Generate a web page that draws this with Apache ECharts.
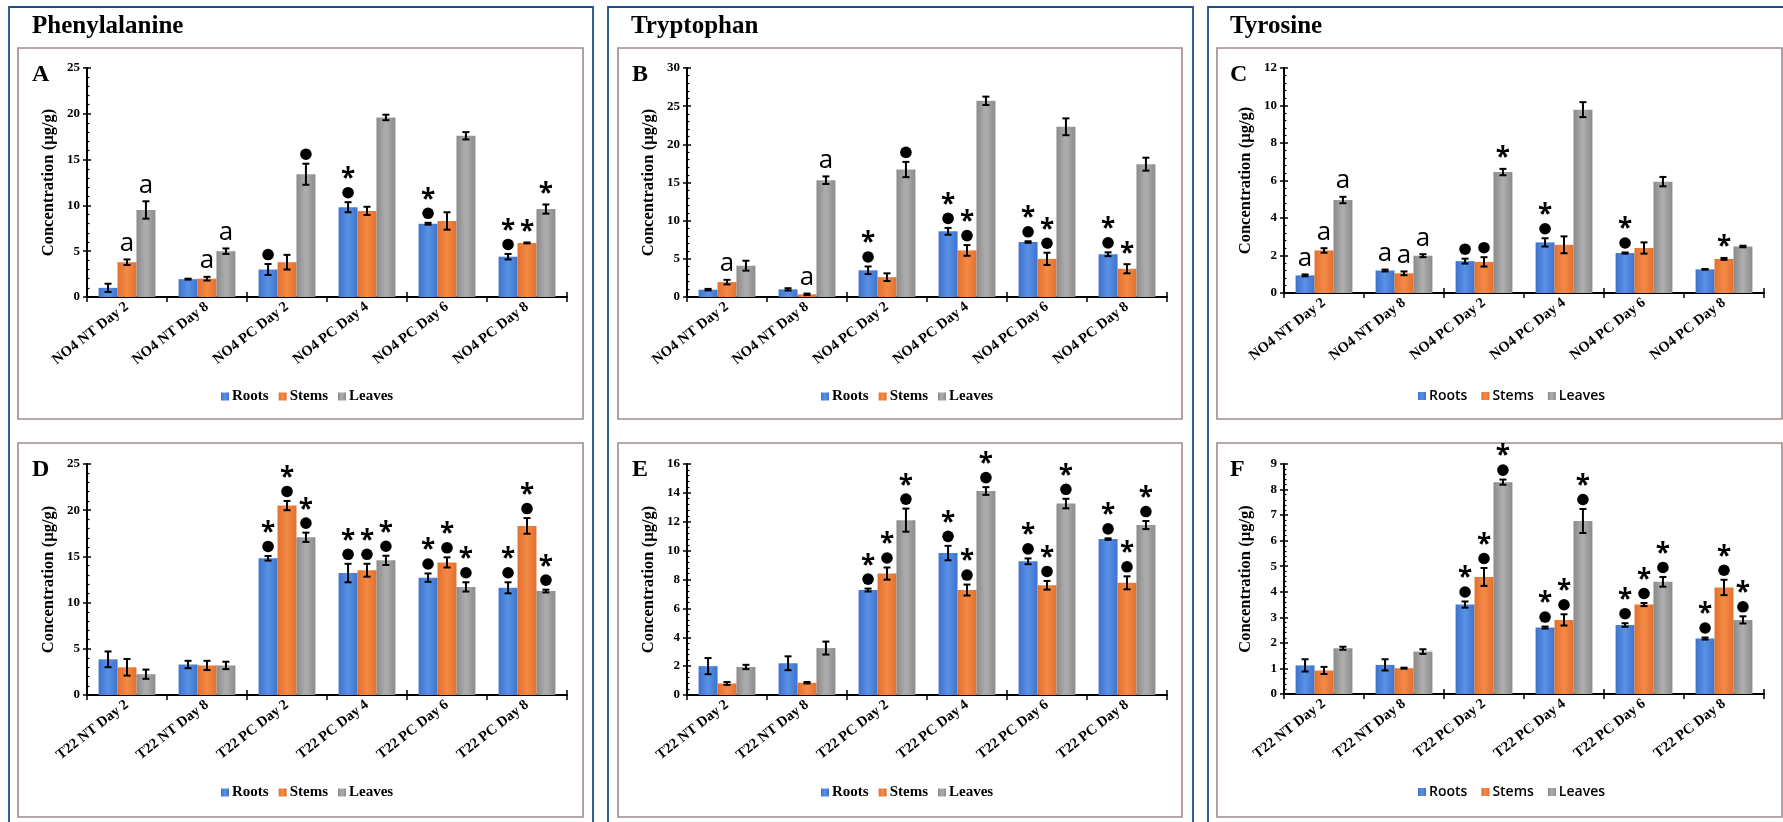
<!DOCTYPE html>
<html>
<head>
<meta charset="utf-8">
<script src="https://cdn.jsdelivr.net/npm/echarts@6/dist/echarts.min.js"></script>
<style>
  html, body { margin: 0; padding: 0; background: #fff; }
  #chart { width: 1783px; height: 822px; }
</style>
</head>
<body>
<div id="chart"></div>
<script>
const catsNO4 = ['NO4 NT Day 2', 'NO4 NT Day 8', 'NO4 PC Day 2', 'NO4 PC Day 4', 'NO4 PC Day 6', 'NO4 PC Day 8'];
const catsT22 = ['T22 NT Day 2', 'T22 NT Day 8', 'T22 PC Day 2', 'T22 PC Day 4', 'T22 PC Day 6', 'T22 PC Day 8'];
const seriesNames = ['Roots', 'Stems', 'Leaves'];

// A - Phenylalanine, NO4   (rows: roots, stems, leaves)
const valA = [
  [1.0, 1.95, 3.0, 9.8, 8.0, 4.4],
  [3.8, 2.0, 3.8, 9.4, 8.3, 5.9],
  [9.5, 5.0, 13.4, 19.6, 17.6, 9.6]
];
const errA = [
  [0.45, 0.05, 0.6, 0.55, 0.1, 0.3],
  [0.3, 0.2, 0.8, 0.45, 0.95, 0.05],
  [0.95, 0.3, 1.15, 0.3, 0.4, 0.5]
];
const sigA = [
  ['', '', '●', '●*', '●*', '●*'],
  ['a', 'a', '', '', '', '*'],
  ['a', 'a', '●', '', '', '*']
];

// B - Tryptophan, NO4
const valB = [
  [0.96, 1.0, 3.5, 8.6, 7.2, 5.6],
  [1.95, 0.35, 2.6, 6.1, 5.0, 3.7],
  [4.1, 15.3, 16.7, 25.7, 22.3, 17.4]
];
const errB = [
  [0.1, 0.15, 0.5, 0.45, 0.1, 0.25],
  [0.3, 0.1, 0.5, 0.7, 0.8, 0.6],
  [0.65, 0.5, 1.0, 0.55, 1.1, 0.85]
];
const sigB = [
  ['', '', '●*', '●*', '●*', '●*'],
  ['a', 'a', '', '●*', '●*', '*'],
  ['', 'a', '●', '', '', '']
];

// C - Tyrosine, NO4
const valC = [
  [0.94, 1.2, 1.7, 2.7, 2.13, 1.26],
  [2.27, 1.05, 1.66, 2.57, 2.4, 1.82],
  [4.96, 1.99, 6.45, 9.78, 5.94, 2.48]
];
const errC = [
  [0.05, 0.05, 0.13, 0.22, 0.03, 0.02],
  [0.12, 0.1, 0.25, 0.45, 0.3, 0.05],
  [0.17, 0.08, 0.17, 0.4, 0.25, 0.04]
];
const sigC = [
  ['a', 'a', '●', '●*', '●*', ''],
  ['a', 'a', '●', '', '', '*'],
  ['a', 'a', '*', '', '', '']
];

// D - Phenylalanine, T22
const valD = [
  [3.86, 3.3, 14.8, 13.2, 12.7, 11.6],
  [3.0, 3.2, 20.5, 13.5, 14.35, 18.3],
  [2.25, 3.2, 17.07, 14.57, 11.7, 11.25]
];
const errD = [
  [0.85, 0.4, 0.25, 1.0, 0.45, 0.6],
  [0.9, 0.5, 0.5, 0.7, 0.55, 0.85],
  [0.5, 0.4, 0.5, 0.5, 0.5, 0.15]
];

// E - Tryptophan, T22
const valE = [
  [2.0, 2.2, 7.27, 9.83, 9.26, 10.8],
  [0.8, 0.85, 8.41, 7.27, 7.6, 7.77],
  [1.94, 3.25, 12.11, 14.13, 13.26, 11.77]
];
const errE = [
  [0.56, 0.48, 0.1, 0.5, 0.2, 0.05],
  [0.1, 0.05, 0.42, 0.38, 0.3, 0.45],
  [0.15, 0.45, 0.8, 0.27, 0.33, 0.28]
];

// F - Tyrosine, T22
const valF = [
  [1.12, 1.14, 3.5, 2.6, 2.7, 2.17],
  [0.92, 1.01, 4.58, 2.9, 3.5, 4.17],
  [1.79, 1.66, 8.29, 6.77, 4.39, 2.9]
];
const errF = [
  [0.24, 0.22, 0.12, 0.04, 0.07, 0.04],
  [0.14, 0.02, 0.35, 0.22, 0.06, 0.3],
  [0.06, 0.09, 0.1, 0.47, 0.19, 0.14]
];

// T22 panels: every PC bar is marked with dot + star
const sigPC = ['', '', '●*', '●*', '●*', '●*'];
const sigD = [sigPC, sigPC, sigPC];
const sigE = [sigPC, sigPC, sigPC];
const sigF = [sigPC, sigPC, sigPC];

const SERIF = "'Liberation Serif', 'Times New Roman', serif";
const SANS = "'Open Sans', 'Liberation Sans', sans-serif";
const GAP = 0.29;

function grad(a, b) {
  return new echarts.graphic.LinearGradient(0, 0, 1, 0, [
    { offset: 0, color: a }, { offset: 0.5, color: b }, { offset: 1, color: a }
  ]);
}
const barColors = [grad('#3d72cf', '#5a92e4'), grad('#e2702e', '#f48a45'), grad('#8a8a8a', '#afafaf')];

const panels = [
  { letter: 'A', cats: catsNO4, vals: valA, errs: errA, sig: sigA, max: 25, step: 5, left: 87, top: 68, h: 229, legendX: 221, legendY: 389, sans: false },
  { letter: 'B', cats: catsNO4, vals: valB, errs: errB, sig: sigB, max: 30, step: 5, left: 687, top: 68, h: 229, legendX: 821, legendY: 389, sans: false },
  { letter: 'C', cats: catsNO4, vals: valC, errs: errC, sig: sigC, max: 12, step: 2, left: 1284, top: 68, h: 225, legendX: 1418, legendY: 389, sans: true },
  { letter: 'D', cats: catsT22, vals: valD, errs: errD, sig: sigD, max: 25, step: 5, left: 87, top: 464, h: 231, legendX: 221, legendY: 785, sans: false },
  { letter: 'E', cats: catsT22, vals: valE, errs: errE, sig: sigE, max: 16, step: 2, left: 687, top: 464, h: 231, legendX: 821, legendY: 785, sans: false },
  { letter: 'F', cats: catsT22, vals: valF, errs: errF, sig: sigF, max: 9, step: 1, left: 1284, top: 464, h: 230, legendX: 1418, legendY: 785, sans: true }
];

const grid = [], xAxis = [], yAxis = [], series = [], legend = [];

panels.forEach(function (p, i) {
  grid.push({ left: p.left, top: p.top, width: 480, height: p.h });

  xAxis.push({
    type: 'category', gridIndex: i, data: p.cats,
    axisLine: { lineStyle: { color: '#000', width: 2 } },
    axisTick: { show: true, length: 5, lineStyle: { color: '#000', width: 1.5 } },
    axisLabel: {
      interval: 0, rotate: 38, margin: 8, color: '#000',
      fontFamily: SERIF, fontWeight: 'bold', fontSize: 14.5
    },
    splitLine: { show: false }
  });
  xAxis.push({
    type: 'category', gridIndex: i, data: p.cats, position: 'bottom',
    axisLine: { show: false },
    axisTick: { show: true, inside: true, length: 5, lineStyle: { color: '#000', width: 1.5 } },
    axisLabel: { show: false },
    splitLine: { show: false }
  });

  yAxis.push({
    type: 'value', gridIndex: i, min: 0, max: p.max, interval: p.step,
    name: 'Concentration (µg/g)', nameLocation: 'middle', nameGap: 30,
    nameTextStyle: { fontFamily: SERIF, fontWeight: 'bold', fontSize: 16.5, color: '#000' },
    axisLine: { show: true, lineStyle: { color: '#000', width: 2 } },
    axisTick: { show: true, length: 4, lineStyle: { color: '#000', width: 1.5 } },
    axisLabel: { margin: 7, color: '#000', fontFamily: SERIF, fontWeight: 'bold', fontSize: 13 },
    splitLine: { show: false }
  });
  yAxis.push({
    type: 'value', gridIndex: i, min: 0, max: p.max, interval: p.step, position: 'left',
    axisLine: { show: false },
    axisTick: { show: true, inside: true, length: 4, lineStyle: { color: '#000', width: 1.5 } },
    minorTick: { show: true, splitNumber: 5, length: 2.5, lineStyle: { color: '#000', width: 1.2 } },
    axisLabel: { show: false },
    splitLine: { show: false }
  });

  seriesNames.forEach(function (name, s) {
    series.push({
      name: name, type: 'bar', xAxisIndex: 2 * i, yAxisIndex: 2 * i,
      barGap: '0%', barCategoryGap: (GAP * 100) + '%',
      itemStyle: { color: barColors[s] },
      data: p.vals[s]
    });
  });

  const errData = [];
  for (let s = 0; s < 3; s++) {
    for (let c = 0; c < 6; c++) errData.push([c, p.vals[s][c], p.errs[s][c], s]);
  }
  const sig = p.sig;
  series.push({
    type: 'custom', xAxisIndex: 2 * i, yAxisIndex: 2 * i, z: 5, clip: false,
    encode: { x: 0, y: 1 },
    data: errData,
    renderItem: function (params, api) {
      const c = api.value(0), v = api.value(1), e = api.value(2), s = api.value(3);
      const catW = api.size([1, 0])[0];
      const bw = catW * (1 - GAP) / 3;
      const x = api.coord([c, 0])[0] + (s - 1) * bw;
      const yTop = api.coord([c, v + e])[1];
      const yBot = api.coord([c, v - e])[1];
      const st = { stroke: '#000', lineWidth: 2 };
      const kids = [
        { type: 'line', shape: { x1: x, y1: yTop, x2: x, y2: yBot }, style: st },
        { type: 'line', shape: { x1: x - 3.5, y1: yTop, x2: x + 3.5, y2: yTop }, style: st },
        { type: 'line', shape: { x1: x - 3.5, y1: yBot, x2: x + 3.5, y2: yBot }, style: st }
      ];
      const mark = sig[s][c];
      if (mark === 'a') {
        kids.push({ type: 'text', x: x, y: yTop - 3,
          style: { text: 'a', font: '26px ' + SANS, fill: '#000', align: 'center', verticalAlign: 'bottom', textAlign: 'center', textVerticalAlign: 'bottom' } });
      }
      let starY = yTop - 16;
      if (mark.indexOf('●') >= 0) {
        const dy = yTop - 9.5;
        kids.push({ type: 'circle', shape: { cx: x, cy: dy, r: 5.8 }, style: { fill: '#000' } });
        starY = dy - 19;
      }
      if (mark.indexOf('*') >= 0) {
        kids.push({ type: 'text', x: x, y: starY + 6,
          style: { text: '*', font: 'bold 26px ' + SANS, fill: '#000', align: 'center', verticalAlign: 'middle', textAlign: 'center', textVerticalAlign: 'middle' } });
      }
      return { type: 'group', children: kids };
    }
  });

  legend.push({
    data: seriesNames, left: p.legendX, top: p.legendY, padding: 0,
    icon: 'rect', itemWidth: 8, itemHeight: 8, itemGap: p.sans ? 14 : 10,
    textStyle: p.sans
      ? { fontFamily: SANS, fontWeight: 600, fontSize: 14, color: '#000', padding: [0, 0, 0, -2] }
      : { fontFamily: SERIF, fontWeight: 'bold', fontSize: 15, color: '#000', padding: [0, 0, 0, -2] }
  });
});

const boxStyle = { fill: 'none', stroke: '#1f4f8a', lineWidth: 1.8 };
const panelStyle = { fill: 'none', stroke: '#a08a8a', lineWidth: 1.6 };
const graphic = [
  { type: 'rect', shape: { x: 9, y: 7, width: 584, height: 840 }, style: boxStyle },
  { type: 'rect', shape: { x: 608, y: 7, width: 585, height: 840 }, style: boxStyle },
  { type: 'rect', shape: { x: 1208, y: 7, width: 600, height: 840 }, style: boxStyle },
  { type: 'rect', shape: { x: 18, y: 48, width: 565, height: 371 }, style: panelStyle },
  { type: 'rect', shape: { x: 618, y: 48, width: 564, height: 371 }, style: panelStyle },
  { type: 'rect', shape: { x: 1217, y: 48, width: 565, height: 371 }, style: panelStyle },
  { type: 'rect', shape: { x: 18, y: 443, width: 565, height: 374 }, style: panelStyle },
  { type: 'rect', shape: { x: 618, y: 443, width: 564, height: 374 }, style: panelStyle },
  { type: 'rect', shape: { x: 1217, y: 443, width: 565, height: 374 }, style: panelStyle }
];
[['Phenylalanine', 32], ['Tryptophan', 631], ['Tyrosine', 1230]].forEach(function (t) {
  graphic.push({ type: 'text', x: t[1], y: 27,
    style: { text: t[0], font: 'bold 25px ' + SERIF, fill: '#000', verticalAlign: 'middle', textVerticalAlign: 'middle' } });
});
const letterPos = [[32, 75], [632, 75], [1230, 75], [32, 470], [632, 470], [1230, 470]];
panels.forEach(function (p, i) {
  graphic.push({ type: 'text', x: letterPos[i][0], y: letterPos[i][1],
    style: { text: p.letter, font: 'bold 24px ' + SERIF, fill: '#000', verticalAlign: 'middle', textVerticalAlign: 'middle' } });
});

const chart = echarts.init(document.getElementById('chart'));
chart.setOption({
  backgroundColor: '#fff',
  animation: false,
  grid: grid,
  xAxis: xAxis,
  yAxis: yAxis,
  legend: legend,
  series: series,
  graphic: graphic
});
</script>
</body>
</html>
